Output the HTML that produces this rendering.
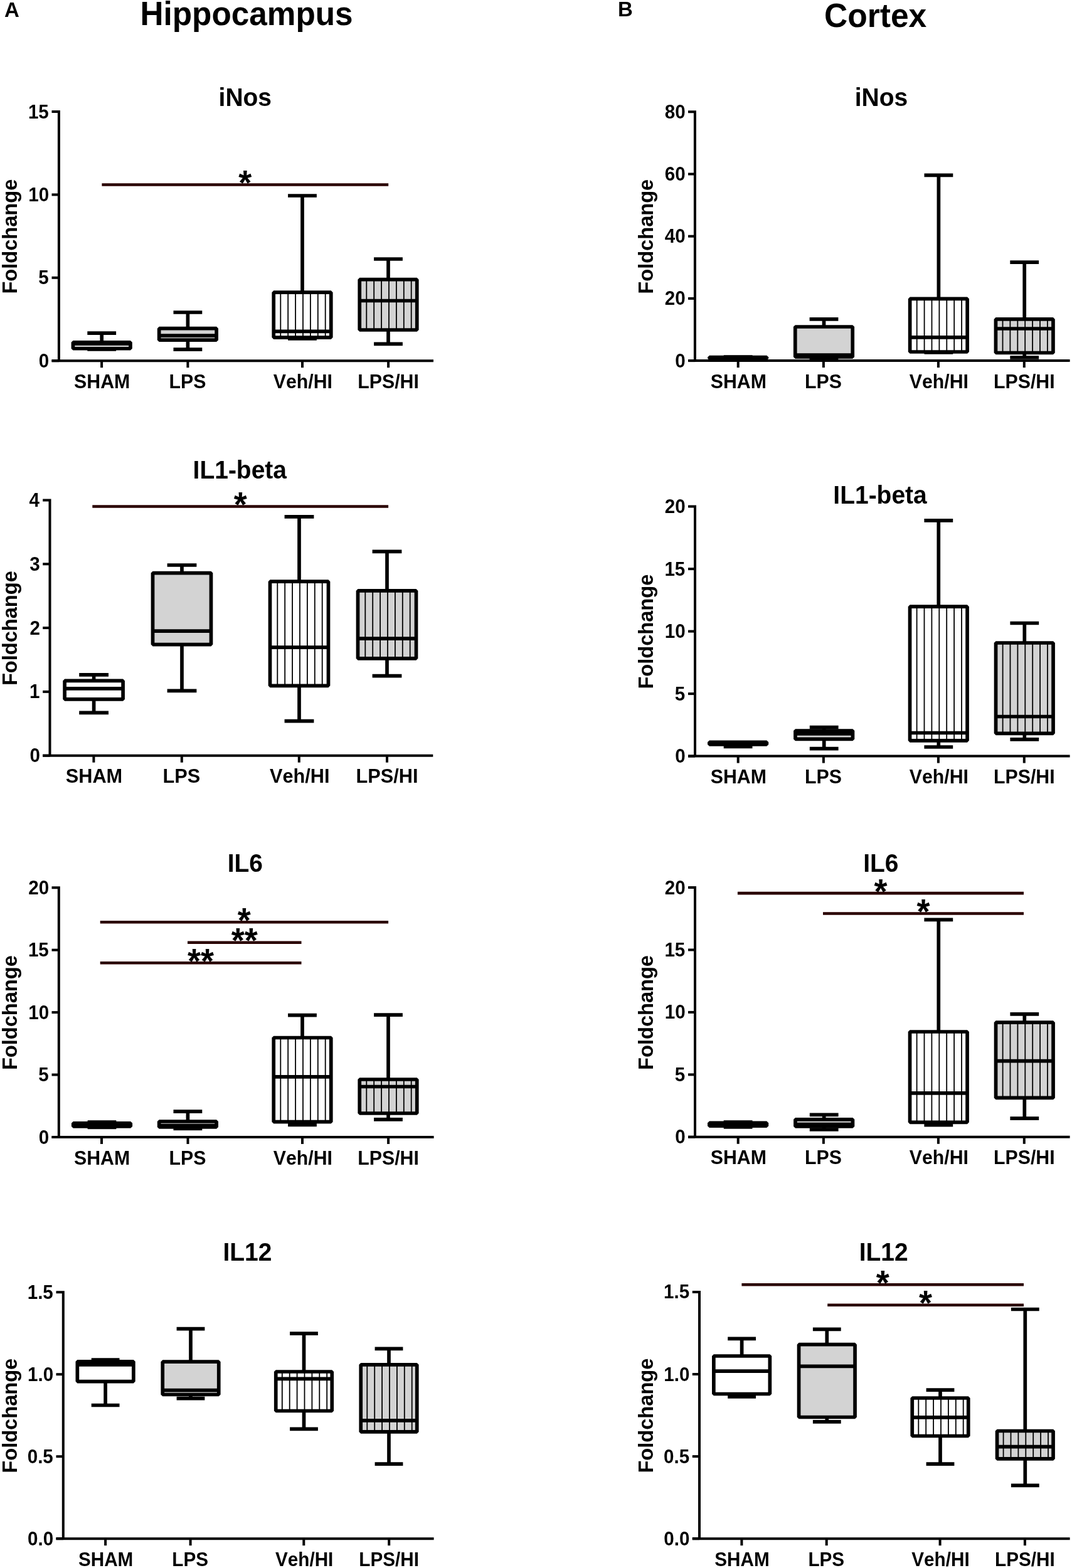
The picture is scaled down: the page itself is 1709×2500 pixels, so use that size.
<!DOCTYPE html>
<html><head><meta charset="utf-8"><title>Hippocampus / Cortex</title>
<style>
html,body{margin:0;padding:0;background:#fff;}
svg{display:block;}
text{font-family:"Liberation Sans",sans-serif;font-weight:bold;fill:#000;font-kerning:none;}
</style></head>
<body>
<svg width="1709" height="2500" viewBox="0 0 1709 2500">
<rect width="1709" height="2500" fill="#fff"/>
<path d="M82.5,178 H93.9 V575.2" fill="none" stroke="#000" stroke-width="4.0" stroke-linejoin="miter"/>
<line x1="82.5" y1="575.2" x2="691" y2="575.2" stroke="#000" stroke-width="4" stroke-linecap="butt"/>
<line x1="82.5" y1="310.4" x2="93.9" y2="310.4" stroke="#000" stroke-width="4" stroke-linecap="butt"/>
<line x1="82.5" y1="442.8" x2="93.9" y2="442.8" stroke="#000" stroke-width="4" stroke-linecap="butt"/>
<line x1="82.5" y1="575.2" x2="93.9" y2="575.2" stroke="#000" stroke-width="4" stroke-linecap="butt"/>
<text transform="translate(44.9,188.59) scale(1,1.04)" x="0" y="0" font-size="29.6">15</text>
<text transform="translate(45.29,320.99) scale(1,1.04)" x="0" y="0" font-size="29.6">10</text>
<text transform="translate(61.36,453.39) scale(1,1.04)" x="0" y="0" font-size="29.6">5</text>
<text transform="translate(61.75,585.79) scale(1,1.04)" x="0" y="0" font-size="29.6">0</text>
<line x1="162.1" y1="575.2" x2="162.1" y2="586.2" stroke="#000" stroke-width="4" stroke-linecap="butt"/>
<line x1="299.4" y1="575.2" x2="299.4" y2="586.2" stroke="#000" stroke-width="4" stroke-linecap="butt"/>
<line x1="482" y1="575.2" x2="482" y2="586.2" stroke="#000" stroke-width="4" stroke-linecap="butt"/>
<line x1="619.1" y1="575.2" x2="619.1" y2="586.2" stroke="#000" stroke-width="4" stroke-linecap="butt"/>
<text transform="translate(118.07,618.7) scale(1,1.04)" x="0" y="0" font-size="30.3">SHAM</text>
<text transform="translate(269.51,618.7) scale(1,1.04)" x="0" y="0" font-size="30.3">LPS</text>
<text transform="translate(435.77,618.7) scale(1,1.04)" x="0" y="0" font-size="30.3">Veh/HI</text>
<text transform="translate(570.28,618.7) scale(1,1.04)" x="0" y="0" font-size="30.3">LPS/HI</text>
<text transform="translate(27.3,376.6) rotate(-90) scale(1,1.04)" x="-92" y="0" font-size="32.6">Foldchange</text>
<text transform="translate(348.58,168.9) scale(1,1.04)" x="0" y="0" font-size="39">iNos</text>
<line x1="162.2" y1="531.1" x2="162.2" y2="545.8" stroke="#000" stroke-width="5.7" stroke-linecap="butt"/>
<line x1="162.2" y1="555.7" x2="162.2" y2="557" stroke="#000" stroke-width="5.7" stroke-linecap="butt"/>
<line x1="139.3" y1="531.1" x2="185.1" y2="531.1" stroke="#000" stroke-width="5.7" stroke-linecap="butt"/>
<line x1="139.3" y1="557" x2="185.1" y2="557" stroke="#000" stroke-width="5.7" stroke-linecap="butt"/>
<rect x="116.45" y="545.8" width="91.5" height="9.9" fill="#fff"/>
<rect x="116.45" y="545.8" width="91.5" height="9.9" fill="none" stroke="#000" stroke-width="5.7" stroke-linejoin="bevel"/>
<line x1="116.45" y1="548.2" x2="207.95" y2="548.2" stroke="#000" stroke-width="5.7" stroke-linecap="butt"/>
<line x1="299.4" y1="498" x2="299.4" y2="523.7" stroke="#000" stroke-width="5.7" stroke-linecap="butt"/>
<line x1="299.4" y1="542.2" x2="299.4" y2="557.1" stroke="#000" stroke-width="5.7" stroke-linecap="butt"/>
<line x1="276.5" y1="498" x2="322.3" y2="498" stroke="#000" stroke-width="5.7" stroke-linecap="butt"/>
<line x1="276.5" y1="557.1" x2="322.3" y2="557.1" stroke="#000" stroke-width="5.7" stroke-linecap="butt"/>
<rect x="253.65" y="523.7" width="91.5" height="18.5" fill="#d3d3d3"/>
<rect x="253.65" y="523.7" width="91.5" height="18.5" fill="none" stroke="#000" stroke-width="5.7" stroke-linejoin="bevel"/>
<line x1="253.65" y1="535.2" x2="345.15" y2="535.2" stroke="#000" stroke-width="5.7" stroke-linecap="butt"/>
<line x1="482" y1="312" x2="482" y2="466.2" stroke="#000" stroke-width="5.7" stroke-linecap="butt"/>
<line x1="482" y1="538.1" x2="482" y2="540" stroke="#000" stroke-width="5.7" stroke-linecap="butt"/>
<line x1="459.1" y1="312" x2="504.9" y2="312" stroke="#000" stroke-width="5.7" stroke-linecap="butt"/>
<line x1="459.1" y1="540" x2="504.9" y2="540" stroke="#000" stroke-width="5.7" stroke-linecap="butt"/>
<rect x="436.25" y="466.2" width="91.5" height="71.9" fill="#fff"/>
<line x1="447.3" y1="466.2" x2="447.3" y2="538.1" stroke="#000" stroke-width="1.8" stroke-linecap="butt"/>
<line x1="459.2" y1="466.2" x2="459.2" y2="538.1" stroke="#000" stroke-width="1.8" stroke-linecap="butt"/>
<line x1="471.1" y1="466.2" x2="471.1" y2="538.1" stroke="#000" stroke-width="1.8" stroke-linecap="butt"/>
<line x1="483" y1="466.2" x2="483" y2="538.1" stroke="#000" stroke-width="1.8" stroke-linecap="butt"/>
<line x1="494.9" y1="466.2" x2="494.9" y2="538.1" stroke="#000" stroke-width="1.8" stroke-linecap="butt"/>
<line x1="506.8" y1="466.2" x2="506.8" y2="538.1" stroke="#000" stroke-width="1.8" stroke-linecap="butt"/>
<line x1="518.7" y1="466.2" x2="518.7" y2="538.1" stroke="#000" stroke-width="1.8" stroke-linecap="butt"/>
<rect x="436.25" y="466.2" width="91.5" height="71.9" fill="none" stroke="#000" stroke-width="5.7" stroke-linejoin="bevel"/>
<line x1="436.25" y1="528.3" x2="527.75" y2="528.3" stroke="#000" stroke-width="5.7" stroke-linecap="butt"/>
<line x1="619" y1="413" x2="619" y2="445.7" stroke="#000" stroke-width="5.7" stroke-linecap="butt"/>
<line x1="619" y1="526" x2="619" y2="548.3" stroke="#000" stroke-width="5.7" stroke-linecap="butt"/>
<line x1="596.1" y1="413" x2="641.9" y2="413" stroke="#000" stroke-width="5.7" stroke-linecap="butt"/>
<line x1="596.1" y1="548.3" x2="641.9" y2="548.3" stroke="#000" stroke-width="5.7" stroke-linecap="butt"/>
<rect x="573.25" y="445.7" width="91.5" height="80.3" fill="#d3d3d3"/>
<line x1="584.3" y1="445.7" x2="584.3" y2="526" stroke="#000" stroke-width="1.8" stroke-linecap="butt"/>
<line x1="596.2" y1="445.7" x2="596.2" y2="526" stroke="#000" stroke-width="1.8" stroke-linecap="butt"/>
<line x1="608.1" y1="445.7" x2="608.1" y2="526" stroke="#000" stroke-width="1.8" stroke-linecap="butt"/>
<line x1="620" y1="445.7" x2="620" y2="526" stroke="#000" stroke-width="1.8" stroke-linecap="butt"/>
<line x1="631.9" y1="445.7" x2="631.9" y2="526" stroke="#000" stroke-width="1.8" stroke-linecap="butt"/>
<line x1="643.8" y1="445.7" x2="643.8" y2="526" stroke="#000" stroke-width="1.8" stroke-linecap="butt"/>
<line x1="655.7" y1="445.7" x2="655.7" y2="526" stroke="#000" stroke-width="1.8" stroke-linecap="butt"/>
<rect x="573.25" y="445.7" width="91.5" height="80.3" fill="none" stroke="#000" stroke-width="5.7" stroke-linejoin="bevel"/>
<line x1="573.25" y1="479.5" x2="664.75" y2="479.5" stroke="#000" stroke-width="5.7" stroke-linecap="butt"/>
<line x1="162.4" y1="294.5" x2="619.2" y2="294.5" stroke="#2a0000" stroke-width="4.6" stroke-linecap="butt"/>
<text transform="translate(380.24,310.25) scale(1,1.04)" x="0" y="0" font-size="54">*</text>
<path d="M68.2,797.5 H79.5 V1204.7" fill="none" stroke="#000" stroke-width="4.0" stroke-linejoin="miter"/>
<line x1="68.2" y1="1204.7" x2="690.3" y2="1204.7" stroke="#000" stroke-width="4" stroke-linecap="butt"/>
<line x1="68.2" y1="899.3" x2="79.5" y2="899.3" stroke="#000" stroke-width="4" stroke-linecap="butt"/>
<line x1="68.2" y1="1001.1" x2="79.5" y2="1001.1" stroke="#000" stroke-width="4" stroke-linecap="butt"/>
<line x1="68.2" y1="1102.9" x2="79.5" y2="1102.9" stroke="#000" stroke-width="4" stroke-linecap="butt"/>
<line x1="68.2" y1="1204.7" x2="79.5" y2="1204.7" stroke="#000" stroke-width="4" stroke-linecap="butt"/>
<text transform="translate(46.4,808.09) scale(1,1.04)" x="0" y="0" font-size="29.6">4</text>
<text transform="translate(47.31,909.89) scale(1,1.04)" x="0" y="0" font-size="29.6">3</text>
<text transform="translate(47.42,1011.69) scale(1,1.04)" x="0" y="0" font-size="29.6">2</text>
<text transform="translate(47.06,1113.49) scale(1,1.04)" x="0" y="0" font-size="29.6">1</text>
<text transform="translate(47.45,1215.29) scale(1,1.04)" x="0" y="0" font-size="29.6">0</text>
<line x1="149.4" y1="1204.7" x2="149.4" y2="1215.7" stroke="#000" stroke-width="4" stroke-linecap="butt"/>
<line x1="289.8" y1="1204.7" x2="289.8" y2="1215.7" stroke="#000" stroke-width="4" stroke-linecap="butt"/>
<line x1="476.8" y1="1204.7" x2="476.8" y2="1215.7" stroke="#000" stroke-width="4" stroke-linecap="butt"/>
<line x1="617" y1="1204.7" x2="617" y2="1215.7" stroke="#000" stroke-width="4" stroke-linecap="butt"/>
<text transform="translate(104.79,1248.2) scale(1,1.04)" x="0" y="0" font-size="30.7">SHAM</text>
<text transform="translate(259.52,1248.2) scale(1,1.04)" x="0" y="0" font-size="30.7">LPS</text>
<text transform="translate(429.96,1248.2) scale(1,1.04)" x="0" y="0" font-size="30.7">Veh/HI</text>
<text transform="translate(567.53,1248.2) scale(1,1.04)" x="0" y="0" font-size="30.7">LPS/HI</text>
<text transform="translate(27.3,1001.1) rotate(-90) scale(1,1.04)" x="-92" y="0" font-size="32.6">Foldchange</text>
<text transform="translate(307.56,763) scale(1,1.04)" x="0" y="0" font-size="39">IL1-beta</text>
<line x1="149.6" y1="1075.9" x2="149.6" y2="1085.4" stroke="#000" stroke-width="5.7" stroke-linecap="butt"/>
<line x1="149.6" y1="1114.9" x2="149.6" y2="1136.4" stroke="#000" stroke-width="5.7" stroke-linecap="butt"/>
<line x1="126.2" y1="1075.9" x2="173" y2="1075.9" stroke="#000" stroke-width="5.7" stroke-linecap="butt"/>
<line x1="126.2" y1="1136.4" x2="173" y2="1136.4" stroke="#000" stroke-width="5.7" stroke-linecap="butt"/>
<rect x="103.1" y="1085.4" width="93" height="29.5" fill="#fff"/>
<rect x="103.1" y="1085.4" width="93" height="29.5" fill="none" stroke="#000" stroke-width="5.7" stroke-linejoin="bevel"/>
<line x1="103.1" y1="1097.9" x2="196.1" y2="1097.9" stroke="#000" stroke-width="5.7" stroke-linecap="butt"/>
<line x1="290" y1="901" x2="290" y2="913.6" stroke="#000" stroke-width="5.7" stroke-linecap="butt"/>
<line x1="290" y1="1027.6" x2="290" y2="1101.3" stroke="#000" stroke-width="5.7" stroke-linecap="butt"/>
<line x1="266.6" y1="901" x2="313.4" y2="901" stroke="#000" stroke-width="5.7" stroke-linecap="butt"/>
<line x1="266.6" y1="1101.3" x2="313.4" y2="1101.3" stroke="#000" stroke-width="5.7" stroke-linecap="butt"/>
<rect x="243.5" y="913.6" width="93" height="114" fill="#d3d3d3"/>
<rect x="243.5" y="913.6" width="93" height="114" fill="none" stroke="#000" stroke-width="5.7" stroke-linejoin="bevel"/>
<line x1="243.5" y1="1006.2" x2="336.5" y2="1006.2" stroke="#000" stroke-width="5.7" stroke-linecap="butt"/>
<line x1="477" y1="823.9" x2="477" y2="927.2" stroke="#000" stroke-width="5.7" stroke-linecap="butt"/>
<line x1="477" y1="1093.3" x2="477" y2="1149.7" stroke="#000" stroke-width="5.7" stroke-linecap="butt"/>
<line x1="453.6" y1="823.9" x2="500.4" y2="823.9" stroke="#000" stroke-width="5.7" stroke-linecap="butt"/>
<line x1="453.6" y1="1149.7" x2="500.4" y2="1149.7" stroke="#000" stroke-width="5.7" stroke-linecap="butt"/>
<rect x="430.5" y="927.2" width="93" height="166.1" fill="#fff"/>
<line x1="442.3" y1="927.2" x2="442.3" y2="1093.3" stroke="#000" stroke-width="1.8" stroke-linecap="butt"/>
<line x1="454.2" y1="927.2" x2="454.2" y2="1093.3" stroke="#000" stroke-width="1.8" stroke-linecap="butt"/>
<line x1="466.1" y1="927.2" x2="466.1" y2="1093.3" stroke="#000" stroke-width="1.8" stroke-linecap="butt"/>
<line x1="478" y1="927.2" x2="478" y2="1093.3" stroke="#000" stroke-width="1.8" stroke-linecap="butt"/>
<line x1="489.9" y1="927.2" x2="489.9" y2="1093.3" stroke="#000" stroke-width="1.8" stroke-linecap="butt"/>
<line x1="501.8" y1="927.2" x2="501.8" y2="1093.3" stroke="#000" stroke-width="1.8" stroke-linecap="butt"/>
<line x1="513.7" y1="927.2" x2="513.7" y2="1093.3" stroke="#000" stroke-width="1.8" stroke-linecap="butt"/>
<rect x="430.5" y="927.2" width="93" height="166.1" fill="none" stroke="#000" stroke-width="5.7" stroke-linejoin="bevel"/>
<line x1="430.5" y1="1032.2" x2="523.5" y2="1032.2" stroke="#000" stroke-width="5.7" stroke-linecap="butt"/>
<line x1="617" y1="879.4" x2="617" y2="941.9" stroke="#000" stroke-width="5.7" stroke-linecap="butt"/>
<line x1="617" y1="1049.8" x2="617" y2="1077.7" stroke="#000" stroke-width="5.7" stroke-linecap="butt"/>
<line x1="593.6" y1="879.4" x2="640.4" y2="879.4" stroke="#000" stroke-width="5.7" stroke-linecap="butt"/>
<line x1="593.6" y1="1077.7" x2="640.4" y2="1077.7" stroke="#000" stroke-width="5.7" stroke-linecap="butt"/>
<rect x="570.5" y="941.9" width="93" height="107.9" fill="#d3d3d3"/>
<line x1="582.3" y1="941.9" x2="582.3" y2="1049.8" stroke="#000" stroke-width="1.8" stroke-linecap="butt"/>
<line x1="594.2" y1="941.9" x2="594.2" y2="1049.8" stroke="#000" stroke-width="1.8" stroke-linecap="butt"/>
<line x1="606.1" y1="941.9" x2="606.1" y2="1049.8" stroke="#000" stroke-width="1.8" stroke-linecap="butt"/>
<line x1="618" y1="941.9" x2="618" y2="1049.8" stroke="#000" stroke-width="1.8" stroke-linecap="butt"/>
<line x1="629.9" y1="941.9" x2="629.9" y2="1049.8" stroke="#000" stroke-width="1.8" stroke-linecap="butt"/>
<line x1="641.8" y1="941.9" x2="641.8" y2="1049.8" stroke="#000" stroke-width="1.8" stroke-linecap="butt"/>
<line x1="653.7" y1="941.9" x2="653.7" y2="1049.8" stroke="#000" stroke-width="1.8" stroke-linecap="butt"/>
<rect x="570.5" y="941.9" width="93" height="107.9" fill="none" stroke="#000" stroke-width="5.7" stroke-linejoin="bevel"/>
<line x1="570.5" y1="1018.1" x2="663.5" y2="1018.1" stroke="#000" stroke-width="5.7" stroke-linecap="butt"/>
<line x1="147.3" y1="807.5" x2="619.1" y2="807.5" stroke="#2a0000" stroke-width="4.6" stroke-linecap="butt"/>
<text transform="translate(372.64,823.25) scale(1,1.04)" x="0" y="0" font-size="54">*</text>
<path d="M82.5,1415.2 H93.8 V1813" fill="none" stroke="#000" stroke-width="4.0" stroke-linejoin="miter"/>
<line x1="82.5" y1="1813" x2="691.6" y2="1813" stroke="#000" stroke-width="4" stroke-linecap="butt"/>
<line x1="82.5" y1="1514.65" x2="93.8" y2="1514.65" stroke="#000" stroke-width="4" stroke-linecap="butt"/>
<line x1="82.5" y1="1614.1" x2="93.8" y2="1614.1" stroke="#000" stroke-width="4" stroke-linecap="butt"/>
<line x1="82.5" y1="1713.55" x2="93.8" y2="1713.55" stroke="#000" stroke-width="4" stroke-linecap="butt"/>
<line x1="82.5" y1="1813" x2="93.8" y2="1813" stroke="#000" stroke-width="4" stroke-linecap="butt"/>
<text transform="translate(45.29,1425.79) scale(1,1.04)" x="0" y="0" font-size="29.6">20</text>
<text transform="translate(44.9,1525.24) scale(1,1.04)" x="0" y="0" font-size="29.6">15</text>
<text transform="translate(45.29,1624.69) scale(1,1.04)" x="0" y="0" font-size="29.6">10</text>
<text transform="translate(61.36,1724.14) scale(1,1.04)" x="0" y="0" font-size="29.6">5</text>
<text transform="translate(61.75,1823.59) scale(1,1.04)" x="0" y="0" font-size="29.6">0</text>
<line x1="162" y1="1813" x2="162" y2="1824" stroke="#000" stroke-width="4" stroke-linecap="butt"/>
<line x1="299.5" y1="1813" x2="299.5" y2="1824" stroke="#000" stroke-width="4" stroke-linecap="butt"/>
<line x1="482" y1="1813" x2="482" y2="1824" stroke="#000" stroke-width="4" stroke-linecap="butt"/>
<line x1="619.1" y1="1813" x2="619.1" y2="1824" stroke="#000" stroke-width="4" stroke-linecap="butt"/>
<text transform="translate(117.97,1856.5) scale(1,1.04)" x="0" y="0" font-size="30.3">SHAM</text>
<text transform="translate(269.61,1856.5) scale(1,1.04)" x="0" y="0" font-size="30.3">LPS</text>
<text transform="translate(435.77,1856.5) scale(1,1.04)" x="0" y="0" font-size="30.3">Veh/HI</text>
<text transform="translate(570.28,1856.5) scale(1,1.04)" x="0" y="0" font-size="30.3">LPS/HI</text>
<text transform="translate(27.3,1614.1) rotate(-90) scale(1,1.04)" x="-92" y="0" font-size="32.6">Foldchange</text>
<text transform="translate(362.63,1390.3) scale(1,1.04)" x="0" y="0" font-size="39">IL6</text>
<line x1="162.5" y1="1789" x2="162.5" y2="1790.8" stroke="#000" stroke-width="5.7" stroke-linecap="butt"/>
<line x1="162.5" y1="1796" x2="162.5" y2="1797.5" stroke="#000" stroke-width="5.7" stroke-linecap="butt"/>
<line x1="139.6" y1="1789" x2="185.4" y2="1789" stroke="#000" stroke-width="5.7" stroke-linecap="butt"/>
<line x1="139.6" y1="1797.5" x2="185.4" y2="1797.5" stroke="#000" stroke-width="5.7" stroke-linecap="butt"/>
<rect x="116.75" y="1790.8" width="91.5" height="5.2" fill="#fff"/>
<rect x="116.75" y="1790.8" width="91.5" height="5.2" fill="none" stroke="#000" stroke-width="5.7" stroke-linejoin="bevel"/>
<line x1="116.75" y1="1793" x2="208.25" y2="1793" stroke="#000" stroke-width="5.7" stroke-linecap="butt"/>
<line x1="299.4" y1="1772.2" x2="299.4" y2="1788" stroke="#000" stroke-width="5.7" stroke-linecap="butt"/>
<line x1="299.4" y1="1797" x2="299.4" y2="1799.5" stroke="#000" stroke-width="5.7" stroke-linecap="butt"/>
<line x1="276.5" y1="1772.2" x2="322.3" y2="1772.2" stroke="#000" stroke-width="5.7" stroke-linecap="butt"/>
<line x1="276.5" y1="1799.5" x2="322.3" y2="1799.5" stroke="#000" stroke-width="5.7" stroke-linecap="butt"/>
<rect x="253.65" y="1788" width="91.5" height="9" fill="#d3d3d3"/>
<rect x="253.65" y="1788" width="91.5" height="9" fill="none" stroke="#000" stroke-width="5.7" stroke-linejoin="bevel"/>
<line x1="253.65" y1="1794.5" x2="345.15" y2="1794.5" stroke="#000" stroke-width="5.7" stroke-linecap="butt"/>
<line x1="482" y1="1618.7" x2="482" y2="1654.5" stroke="#000" stroke-width="5.7" stroke-linecap="butt"/>
<line x1="482" y1="1788.7" x2="482" y2="1793.5" stroke="#000" stroke-width="5.7" stroke-linecap="butt"/>
<line x1="459.1" y1="1618.7" x2="504.9" y2="1618.7" stroke="#000" stroke-width="5.7" stroke-linecap="butt"/>
<line x1="459.1" y1="1793.5" x2="504.9" y2="1793.5" stroke="#000" stroke-width="5.7" stroke-linecap="butt"/>
<rect x="436.25" y="1654.5" width="91.5" height="134.2" fill="#fff"/>
<line x1="447.3" y1="1654.5" x2="447.3" y2="1788.7" stroke="#000" stroke-width="1.8" stroke-linecap="butt"/>
<line x1="459.2" y1="1654.5" x2="459.2" y2="1788.7" stroke="#000" stroke-width="1.8" stroke-linecap="butt"/>
<line x1="471.1" y1="1654.5" x2="471.1" y2="1788.7" stroke="#000" stroke-width="1.8" stroke-linecap="butt"/>
<line x1="483" y1="1654.5" x2="483" y2="1788.7" stroke="#000" stroke-width="1.8" stroke-linecap="butt"/>
<line x1="494.9" y1="1654.5" x2="494.9" y2="1788.7" stroke="#000" stroke-width="1.8" stroke-linecap="butt"/>
<line x1="506.8" y1="1654.5" x2="506.8" y2="1788.7" stroke="#000" stroke-width="1.8" stroke-linecap="butt"/>
<line x1="518.7" y1="1654.5" x2="518.7" y2="1788.7" stroke="#000" stroke-width="1.8" stroke-linecap="butt"/>
<rect x="436.25" y="1654.5" width="91.5" height="134.2" fill="none" stroke="#000" stroke-width="5.7" stroke-linejoin="bevel"/>
<line x1="436.25" y1="1716.8" x2="527.75" y2="1716.8" stroke="#000" stroke-width="5.7" stroke-linecap="butt"/>
<line x1="619" y1="1618.2" x2="619" y2="1721" stroke="#000" stroke-width="5.7" stroke-linecap="butt"/>
<line x1="619" y1="1775" x2="619" y2="1784.8" stroke="#000" stroke-width="5.7" stroke-linecap="butt"/>
<line x1="596.1" y1="1618.2" x2="641.9" y2="1618.2" stroke="#000" stroke-width="5.7" stroke-linecap="butt"/>
<line x1="596.1" y1="1784.8" x2="641.9" y2="1784.8" stroke="#000" stroke-width="5.7" stroke-linecap="butt"/>
<rect x="573.25" y="1721" width="91.5" height="54" fill="#d3d3d3"/>
<line x1="584.3" y1="1721" x2="584.3" y2="1775" stroke="#000" stroke-width="1.8" stroke-linecap="butt"/>
<line x1="596.2" y1="1721" x2="596.2" y2="1775" stroke="#000" stroke-width="1.8" stroke-linecap="butt"/>
<line x1="608.1" y1="1721" x2="608.1" y2="1775" stroke="#000" stroke-width="1.8" stroke-linecap="butt"/>
<line x1="620" y1="1721" x2="620" y2="1775" stroke="#000" stroke-width="1.8" stroke-linecap="butt"/>
<line x1="631.9" y1="1721" x2="631.9" y2="1775" stroke="#000" stroke-width="1.8" stroke-linecap="butt"/>
<line x1="643.8" y1="1721" x2="643.8" y2="1775" stroke="#000" stroke-width="1.8" stroke-linecap="butt"/>
<line x1="655.7" y1="1721" x2="655.7" y2="1775" stroke="#000" stroke-width="1.8" stroke-linecap="butt"/>
<rect x="573.25" y="1721" width="91.5" height="54" fill="none" stroke="#000" stroke-width="5.7" stroke-linejoin="bevel"/>
<line x1="573.25" y1="1732.5" x2="664.75" y2="1732.5" stroke="#000" stroke-width="5.7" stroke-linecap="butt"/>
<line x1="159.7" y1="1470.3" x2="619.1" y2="1470.3" stroke="#2a0000" stroke-width="4.6" stroke-linecap="butt"/>
<text transform="translate(378.84,1486.05) scale(1,1.04)" x="0" y="0" font-size="54">*</text>
<line x1="299" y1="1502.7" x2="480.5" y2="1502.7" stroke="#2a0000" stroke-width="4.6" stroke-linecap="butt"/>
<text transform="translate(368.68,1518.45) scale(1,1.04)" x="0" y="0" font-size="54">**</text>
<line x1="159.7" y1="1535.3" x2="480.5" y2="1535.3" stroke="#2a0000" stroke-width="4.6" stroke-linecap="butt"/>
<text transform="translate(299.03,1551.05) scale(1,1.04)" x="0" y="0" font-size="54">**</text>
<path d="M89.5,2060.2 H100.8 V2453.2" fill="none" stroke="#000" stroke-width="4.0" stroke-linejoin="miter"/>
<line x1="89.5" y1="2453.2" x2="691.6" y2="2453.2" stroke="#000" stroke-width="4" stroke-linecap="butt"/>
<line x1="89.5" y1="2191.2" x2="100.8" y2="2191.2" stroke="#000" stroke-width="4" stroke-linecap="butt"/>
<line x1="89.5" y1="2322.2" x2="100.8" y2="2322.2" stroke="#000" stroke-width="4" stroke-linecap="butt"/>
<line x1="89.5" y1="2453.2" x2="100.8" y2="2453.2" stroke="#000" stroke-width="4" stroke-linecap="butt"/>
<text transform="translate(43.68,2070.79) scale(1,1.04)" x="0" y="0" font-size="29.6">1.5</text>
<text transform="translate(44.07,2201.79) scale(1,1.04)" x="0" y="0" font-size="29.6">1.0</text>
<text transform="translate(43.68,2332.79) scale(1,1.04)" x="0" y="0" font-size="29.6">0.5</text>
<text transform="translate(44.07,2463.79) scale(1,1.04)" x="0" y="0" font-size="29.6">0.0</text>
<line x1="168.1" y1="2453.2" x2="168.1" y2="2464.2" stroke="#000" stroke-width="4" stroke-linecap="butt"/>
<line x1="303.6" y1="2453.2" x2="303.6" y2="2464.2" stroke="#000" stroke-width="4" stroke-linecap="butt"/>
<line x1="484.3" y1="2453.2" x2="484.3" y2="2464.2" stroke="#000" stroke-width="4" stroke-linecap="butt"/>
<line x1="620.2" y1="2453.2" x2="620.2" y2="2464.2" stroke="#000" stroke-width="4" stroke-linecap="butt"/>
<text transform="translate(124.94,2496.7) scale(1,1.04)" x="0" y="0" font-size="29.7">SHAM</text>
<text transform="translate(274.31,2496.7) scale(1,1.04)" x="0" y="0" font-size="29.7">LPS</text>
<text transform="translate(438.98,2496.7) scale(1,1.04)" x="0" y="0" font-size="29.7">Veh/HI</text>
<text transform="translate(572.34,2496.7) scale(1,1.04)" x="0" y="0" font-size="29.7">LPS/HI</text>
<text transform="translate(27.3,2256.7) rotate(-90) scale(1,1.04)" x="-92" y="0" font-size="32.6">Foldchange</text>
<text transform="translate(355.46,2010.3) scale(1,1.04)" x="0" y="0" font-size="39">IL12</text>
<line x1="168.1" y1="2168" x2="168.1" y2="2170.8" stroke="#000" stroke-width="5.7" stroke-linecap="butt"/>
<line x1="168.1" y1="2202.6" x2="168.1" y2="2240.5" stroke="#000" stroke-width="5.7" stroke-linecap="butt"/>
<line x1="145.7" y1="2168" x2="190.5" y2="2168" stroke="#000" stroke-width="5.7" stroke-linecap="butt"/>
<line x1="145.7" y1="2240.5" x2="190.5" y2="2240.5" stroke="#000" stroke-width="5.7" stroke-linecap="butt"/>
<rect x="123.35" y="2170.8" width="89.5" height="31.8" fill="#fff"/>
<rect x="123.35" y="2170.8" width="89.5" height="31.8" fill="none" stroke="#000" stroke-width="5.7" stroke-linejoin="bevel"/>
<line x1="123.35" y1="2175.8" x2="212.85" y2="2175.8" stroke="#000" stroke-width="5.7" stroke-linecap="butt"/>
<line x1="304" y1="2118.6" x2="304" y2="2171.2" stroke="#000" stroke-width="5.7" stroke-linecap="butt"/>
<line x1="304" y1="2223.5" x2="304" y2="2229.6" stroke="#000" stroke-width="5.7" stroke-linecap="butt"/>
<line x1="281.6" y1="2118.6" x2="326.4" y2="2118.6" stroke="#000" stroke-width="5.7" stroke-linecap="butt"/>
<line x1="281.6" y1="2229.6" x2="326.4" y2="2229.6" stroke="#000" stroke-width="5.7" stroke-linecap="butt"/>
<rect x="259.25" y="2171.2" width="89.5" height="52.3" fill="#d3d3d3"/>
<rect x="259.25" y="2171.2" width="89.5" height="52.3" fill="none" stroke="#000" stroke-width="5.7" stroke-linejoin="bevel"/>
<line x1="259.25" y1="2216.6" x2="348.75" y2="2216.6" stroke="#000" stroke-width="5.7" stroke-linecap="butt"/>
<line x1="484.5" y1="2126.2" x2="484.5" y2="2187" stroke="#000" stroke-width="5.7" stroke-linecap="butt"/>
<line x1="484.5" y1="2249.5" x2="484.5" y2="2278.3" stroke="#000" stroke-width="5.7" stroke-linecap="butt"/>
<line x1="462.1" y1="2126.2" x2="506.9" y2="2126.2" stroke="#000" stroke-width="5.7" stroke-linecap="butt"/>
<line x1="462.1" y1="2278.3" x2="506.9" y2="2278.3" stroke="#000" stroke-width="5.7" stroke-linecap="butt"/>
<rect x="439.75" y="2187" width="89.5" height="62.5" fill="#fff"/>
<line x1="449.8" y1="2187" x2="449.8" y2="2249.5" stroke="#000" stroke-width="1.8" stroke-linecap="butt"/>
<line x1="461.7" y1="2187" x2="461.7" y2="2249.5" stroke="#000" stroke-width="1.8" stroke-linecap="butt"/>
<line x1="473.6" y1="2187" x2="473.6" y2="2249.5" stroke="#000" stroke-width="1.8" stroke-linecap="butt"/>
<line x1="485.5" y1="2187" x2="485.5" y2="2249.5" stroke="#000" stroke-width="1.8" stroke-linecap="butt"/>
<line x1="497.4" y1="2187" x2="497.4" y2="2249.5" stroke="#000" stroke-width="1.8" stroke-linecap="butt"/>
<line x1="509.3" y1="2187" x2="509.3" y2="2249.5" stroke="#000" stroke-width="1.8" stroke-linecap="butt"/>
<line x1="521.2" y1="2187" x2="521.2" y2="2249.5" stroke="#000" stroke-width="1.8" stroke-linecap="butt"/>
<rect x="439.75" y="2187" width="89.5" height="62.5" fill="none" stroke="#000" stroke-width="5.7" stroke-linejoin="bevel"/>
<line x1="439.75" y1="2198.4" x2="529.25" y2="2198.4" stroke="#000" stroke-width="5.7" stroke-linecap="butt"/>
<line x1="620" y1="2150.4" x2="620" y2="2175.8" stroke="#000" stroke-width="5.7" stroke-linecap="butt"/>
<line x1="620" y1="2282.9" x2="620" y2="2334.2" stroke="#000" stroke-width="5.7" stroke-linecap="butt"/>
<line x1="597.6" y1="2150.4" x2="642.4" y2="2150.4" stroke="#000" stroke-width="5.7" stroke-linecap="butt"/>
<line x1="597.6" y1="2334.2" x2="642.4" y2="2334.2" stroke="#000" stroke-width="5.7" stroke-linecap="butt"/>
<rect x="575.25" y="2175.8" width="89.5" height="107.1" fill="#d3d3d3"/>
<line x1="585.3" y1="2175.8" x2="585.3" y2="2282.9" stroke="#000" stroke-width="1.8" stroke-linecap="butt"/>
<line x1="597.2" y1="2175.8" x2="597.2" y2="2282.9" stroke="#000" stroke-width="1.8" stroke-linecap="butt"/>
<line x1="609.1" y1="2175.8" x2="609.1" y2="2282.9" stroke="#000" stroke-width="1.8" stroke-linecap="butt"/>
<line x1="621" y1="2175.8" x2="621" y2="2282.9" stroke="#000" stroke-width="1.8" stroke-linecap="butt"/>
<line x1="632.9" y1="2175.8" x2="632.9" y2="2282.9" stroke="#000" stroke-width="1.8" stroke-linecap="butt"/>
<line x1="644.8" y1="2175.8" x2="644.8" y2="2282.9" stroke="#000" stroke-width="1.8" stroke-linecap="butt"/>
<line x1="656.7" y1="2175.8" x2="656.7" y2="2282.9" stroke="#000" stroke-width="1.8" stroke-linecap="butt"/>
<rect x="575.25" y="2175.8" width="89.5" height="107.1" fill="none" stroke="#000" stroke-width="5.7" stroke-linejoin="bevel"/>
<line x1="575.25" y1="2264.8" x2="664.75" y2="2264.8" stroke="#000" stroke-width="5.7" stroke-linecap="butt"/>
<path d="M1097,178.3 H1107.9 V575.1" fill="none" stroke="#000" stroke-width="4.0" stroke-linejoin="miter"/>
<line x1="1097" y1="575.1" x2="1705.6" y2="575.1" stroke="#000" stroke-width="4" stroke-linecap="butt"/>
<line x1="1097" y1="277.5" x2="1107.9" y2="277.5" stroke="#000" stroke-width="4" stroke-linecap="butt"/>
<line x1="1097" y1="376.7" x2="1107.9" y2="376.7" stroke="#000" stroke-width="4" stroke-linecap="butt"/>
<line x1="1097" y1="475.9" x2="1107.9" y2="475.9" stroke="#000" stroke-width="4" stroke-linecap="butt"/>
<line x1="1097" y1="575.1" x2="1107.9" y2="575.1" stroke="#000" stroke-width="4" stroke-linecap="butt"/>
<text transform="translate(1059.79,188.89) scale(1,1.04)" x="0" y="0" font-size="29.6">80</text>
<text transform="translate(1059.79,288.09) scale(1,1.04)" x="0" y="0" font-size="29.6">60</text>
<text transform="translate(1059.79,387.29) scale(1,1.04)" x="0" y="0" font-size="29.6">40</text>
<text transform="translate(1059.79,486.49) scale(1,1.04)" x="0" y="0" font-size="29.6">20</text>
<text transform="translate(1076.25,585.69) scale(1,1.04)" x="0" y="0" font-size="29.6">0</text>
<line x1="1176.7" y1="575.1" x2="1176.7" y2="586.1" stroke="#000" stroke-width="4" stroke-linecap="butt"/>
<line x1="1312.9" y1="575.1" x2="1312.9" y2="586.1" stroke="#000" stroke-width="4" stroke-linecap="butt"/>
<line x1="1495.9" y1="575.1" x2="1495.9" y2="586.1" stroke="#000" stroke-width="4" stroke-linecap="butt"/>
<line x1="1632.8" y1="575.1" x2="1632.8" y2="586.1" stroke="#000" stroke-width="4" stroke-linecap="butt"/>
<text transform="translate(1132.67,618.6) scale(1,1.04)" x="0" y="0" font-size="30.3">SHAM</text>
<text transform="translate(1283.01,618.6) scale(1,1.04)" x="0" y="0" font-size="30.3">LPS</text>
<text transform="translate(1449.67,618.6) scale(1,1.04)" x="0" y="0" font-size="30.3">Veh/HI</text>
<text transform="translate(1583.98,618.6) scale(1,1.04)" x="0" y="0" font-size="30.3">LPS/HI</text>
<text transform="translate(1041.2,376.7) rotate(-90) scale(1,1.04)" x="-92" y="0" font-size="32.6">Foldchange</text>
<text transform="translate(1362.78,169.4) scale(1,1.04)" x="0" y="0" font-size="39">iNos</text>
<line x1="1176.7" y1="569" x2="1176.7" y2="569.5" stroke="#000" stroke-width="5.7" stroke-linecap="butt"/>
<line x1="1176.7" y1="571.5" x2="1176.7" y2="572" stroke="#000" stroke-width="5.7" stroke-linecap="butt"/>
<line x1="1153.8" y1="569" x2="1199.6" y2="569" stroke="#000" stroke-width="5.7" stroke-linecap="butt"/>
<line x1="1153.8" y1="572" x2="1199.6" y2="572" stroke="#000" stroke-width="5.7" stroke-linecap="butt"/>
<rect x="1130.95" y="569.5" width="91.5" height="2" fill="#fff"/>
<rect x="1130.95" y="569.5" width="91.5" height="2" fill="none" stroke="#000" stroke-width="5.7" stroke-linejoin="bevel"/>
<line x1="1130.95" y1="570" x2="1222.45" y2="570" stroke="#000" stroke-width="5.7" stroke-linecap="butt"/>
<line x1="1313.5" y1="508.8" x2="1313.5" y2="521" stroke="#000" stroke-width="5.7" stroke-linecap="butt"/>
<line x1="1313.5" y1="569.1" x2="1313.5" y2="571" stroke="#000" stroke-width="5.7" stroke-linecap="butt"/>
<line x1="1290.6" y1="508.8" x2="1336.4" y2="508.8" stroke="#000" stroke-width="5.7" stroke-linecap="butt"/>
<line x1="1290.6" y1="571" x2="1336.4" y2="571" stroke="#000" stroke-width="5.7" stroke-linecap="butt"/>
<rect x="1267.75" y="521" width="91.5" height="48.1" fill="#d3d3d3"/>
<rect x="1267.75" y="521" width="91.5" height="48.1" fill="none" stroke="#000" stroke-width="5.7" stroke-linejoin="bevel"/>
<line x1="1267.75" y1="566" x2="1359.25" y2="566" stroke="#000" stroke-width="5.7" stroke-linecap="butt"/>
<line x1="1496.4" y1="279.3" x2="1496.4" y2="476.4" stroke="#000" stroke-width="5.7" stroke-linecap="butt"/>
<line x1="1496.4" y1="561" x2="1496.4" y2="562" stroke="#000" stroke-width="5.7" stroke-linecap="butt"/>
<line x1="1473.5" y1="279.3" x2="1519.3" y2="279.3" stroke="#000" stroke-width="5.7" stroke-linecap="butt"/>
<line x1="1473.5" y1="562" x2="1519.3" y2="562" stroke="#000" stroke-width="5.7" stroke-linecap="butt"/>
<rect x="1450.65" y="476.4" width="91.5" height="84.6" fill="#fff"/>
<line x1="1461.7" y1="476.4" x2="1461.7" y2="561" stroke="#000" stroke-width="1.8" stroke-linecap="butt"/>
<line x1="1473.6" y1="476.4" x2="1473.6" y2="561" stroke="#000" stroke-width="1.8" stroke-linecap="butt"/>
<line x1="1485.5" y1="476.4" x2="1485.5" y2="561" stroke="#000" stroke-width="1.8" stroke-linecap="butt"/>
<line x1="1497.4" y1="476.4" x2="1497.4" y2="561" stroke="#000" stroke-width="1.8" stroke-linecap="butt"/>
<line x1="1509.3" y1="476.4" x2="1509.3" y2="561" stroke="#000" stroke-width="1.8" stroke-linecap="butt"/>
<line x1="1521.2" y1="476.4" x2="1521.2" y2="561" stroke="#000" stroke-width="1.8" stroke-linecap="butt"/>
<line x1="1533.1" y1="476.4" x2="1533.1" y2="561" stroke="#000" stroke-width="1.8" stroke-linecap="butt"/>
<rect x="1450.65" y="476.4" width="91.5" height="84.6" fill="none" stroke="#000" stroke-width="5.7" stroke-linejoin="bevel"/>
<line x1="1450.65" y1="537.9" x2="1542.15" y2="537.9" stroke="#000" stroke-width="5.7" stroke-linecap="butt"/>
<line x1="1633.2" y1="418.1" x2="1633.2" y2="508.9" stroke="#000" stroke-width="5.7" stroke-linecap="butt"/>
<line x1="1633.2" y1="562.5" x2="1633.2" y2="570" stroke="#000" stroke-width="5.7" stroke-linecap="butt"/>
<line x1="1610.3" y1="418.1" x2="1656.1" y2="418.1" stroke="#000" stroke-width="5.7" stroke-linecap="butt"/>
<line x1="1610.3" y1="570" x2="1656.1" y2="570" stroke="#000" stroke-width="5.7" stroke-linecap="butt"/>
<rect x="1587.45" y="508.9" width="91.5" height="53.6" fill="#d3d3d3"/>
<line x1="1598.5" y1="508.9" x2="1598.5" y2="562.5" stroke="#000" stroke-width="1.8" stroke-linecap="butt"/>
<line x1="1610.4" y1="508.9" x2="1610.4" y2="562.5" stroke="#000" stroke-width="1.8" stroke-linecap="butt"/>
<line x1="1622.3" y1="508.9" x2="1622.3" y2="562.5" stroke="#000" stroke-width="1.8" stroke-linecap="butt"/>
<line x1="1634.2" y1="508.9" x2="1634.2" y2="562.5" stroke="#000" stroke-width="1.8" stroke-linecap="butt"/>
<line x1="1646.1" y1="508.9" x2="1646.1" y2="562.5" stroke="#000" stroke-width="1.8" stroke-linecap="butt"/>
<line x1="1658" y1="508.9" x2="1658" y2="562.5" stroke="#000" stroke-width="1.8" stroke-linecap="butt"/>
<line x1="1669.9" y1="508.9" x2="1669.9" y2="562.5" stroke="#000" stroke-width="1.8" stroke-linecap="butt"/>
<rect x="1587.45" y="508.9" width="91.5" height="53.6" fill="none" stroke="#000" stroke-width="5.7" stroke-linejoin="bevel"/>
<line x1="1587.45" y1="524" x2="1678.95" y2="524" stroke="#000" stroke-width="5.7" stroke-linecap="butt"/>
<path d="M1097,807.6 H1108 V1205.6" fill="none" stroke="#000" stroke-width="4.0" stroke-linejoin="miter"/>
<line x1="1097" y1="1205.6" x2="1705.6" y2="1205.6" stroke="#000" stroke-width="4" stroke-linecap="butt"/>
<line x1="1097" y1="907.1" x2="1108" y2="907.1" stroke="#000" stroke-width="4" stroke-linecap="butt"/>
<line x1="1097" y1="1006.6" x2="1108" y2="1006.6" stroke="#000" stroke-width="4" stroke-linecap="butt"/>
<line x1="1097" y1="1106.1" x2="1108" y2="1106.1" stroke="#000" stroke-width="4" stroke-linecap="butt"/>
<line x1="1097" y1="1205.6" x2="1108" y2="1205.6" stroke="#000" stroke-width="4" stroke-linecap="butt"/>
<text transform="translate(1059.79,818.19) scale(1,1.04)" x="0" y="0" font-size="29.6">20</text>
<text transform="translate(1059.4,917.69) scale(1,1.04)" x="0" y="0" font-size="29.6">15</text>
<text transform="translate(1059.79,1017.19) scale(1,1.04)" x="0" y="0" font-size="29.6">10</text>
<text transform="translate(1075.86,1116.69) scale(1,1.04)" x="0" y="0" font-size="29.6">5</text>
<text transform="translate(1076.25,1216.19) scale(1,1.04)" x="0" y="0" font-size="29.6">0</text>
<line x1="1176.7" y1="1205.6" x2="1176.7" y2="1216.6" stroke="#000" stroke-width="4" stroke-linecap="butt"/>
<line x1="1312.9" y1="1205.6" x2="1312.9" y2="1216.6" stroke="#000" stroke-width="4" stroke-linecap="butt"/>
<line x1="1495.9" y1="1205.6" x2="1495.9" y2="1216.6" stroke="#000" stroke-width="4" stroke-linecap="butt"/>
<line x1="1632.8" y1="1205.6" x2="1632.8" y2="1216.6" stroke="#000" stroke-width="4" stroke-linecap="butt"/>
<text transform="translate(1132.67,1249.1) scale(1,1.04)" x="0" y="0" font-size="30.3">SHAM</text>
<text transform="translate(1283.01,1249.1) scale(1,1.04)" x="0" y="0" font-size="30.3">LPS</text>
<text transform="translate(1449.67,1249.1) scale(1,1.04)" x="0" y="0" font-size="30.3">Veh/HI</text>
<text transform="translate(1583.98,1249.1) scale(1,1.04)" x="0" y="0" font-size="30.3">LPS/HI</text>
<text transform="translate(1041.2,1006.6) rotate(-90) scale(1,1.04)" x="-92" y="0" font-size="32.6">Foldchange</text>
<text transform="translate(1328.31,803.1) scale(1,1.04)" x="0" y="0" font-size="39">IL1-beta</text>
<line x1="1176.6" y1="1184" x2="1176.6" y2="1183.3" stroke="#000" stroke-width="5.7" stroke-linecap="butt"/>
<line x1="1176.6" y1="1187" x2="1176.6" y2="1190.4" stroke="#000" stroke-width="5.7" stroke-linecap="butt"/>
<line x1="1153.7" y1="1184" x2="1199.5" y2="1184" stroke="#000" stroke-width="5.7" stroke-linecap="butt"/>
<line x1="1153.7" y1="1190.4" x2="1199.5" y2="1190.4" stroke="#000" stroke-width="5.7" stroke-linecap="butt"/>
<rect x="1130.85" y="1183.3" width="91.5" height="3.7" fill="#fff"/>
<rect x="1130.85" y="1183.3" width="91.5" height="3.7" fill="none" stroke="#000" stroke-width="5.7" stroke-linejoin="bevel"/>
<line x1="1130.85" y1="1185" x2="1222.35" y2="1185" stroke="#000" stroke-width="5.7" stroke-linecap="butt"/>
<line x1="1313.7" y1="1159.6" x2="1313.7" y2="1165" stroke="#000" stroke-width="5.7" stroke-linecap="butt"/>
<line x1="1313.7" y1="1178.4" x2="1313.7" y2="1193.7" stroke="#000" stroke-width="5.7" stroke-linecap="butt"/>
<line x1="1290.8" y1="1159.6" x2="1336.6" y2="1159.6" stroke="#000" stroke-width="5.7" stroke-linecap="butt"/>
<line x1="1290.8" y1="1193.7" x2="1336.6" y2="1193.7" stroke="#000" stroke-width="5.7" stroke-linecap="butt"/>
<rect x="1267.95" y="1165" width="91.5" height="13.4" fill="#d3d3d3"/>
<rect x="1267.95" y="1165" width="91.5" height="13.4" fill="none" stroke="#000" stroke-width="5.7" stroke-linejoin="bevel"/>
<line x1="1267.95" y1="1169.8" x2="1359.45" y2="1169.8" stroke="#000" stroke-width="5.7" stroke-linecap="butt"/>
<line x1="1496.3" y1="829.8" x2="1496.3" y2="967.2" stroke="#000" stroke-width="5.7" stroke-linecap="butt"/>
<line x1="1496.3" y1="1180.8" x2="1496.3" y2="1191" stroke="#000" stroke-width="5.7" stroke-linecap="butt"/>
<line x1="1473.4" y1="829.8" x2="1519.2" y2="829.8" stroke="#000" stroke-width="5.7" stroke-linecap="butt"/>
<line x1="1473.4" y1="1191" x2="1519.2" y2="1191" stroke="#000" stroke-width="5.7" stroke-linecap="butt"/>
<rect x="1450.55" y="967.2" width="91.5" height="213.6" fill="#fff"/>
<line x1="1461.6" y1="967.2" x2="1461.6" y2="1180.8" stroke="#000" stroke-width="1.8" stroke-linecap="butt"/>
<line x1="1473.5" y1="967.2" x2="1473.5" y2="1180.8" stroke="#000" stroke-width="1.8" stroke-linecap="butt"/>
<line x1="1485.4" y1="967.2" x2="1485.4" y2="1180.8" stroke="#000" stroke-width="1.8" stroke-linecap="butt"/>
<line x1="1497.3" y1="967.2" x2="1497.3" y2="1180.8" stroke="#000" stroke-width="1.8" stroke-linecap="butt"/>
<line x1="1509.2" y1="967.2" x2="1509.2" y2="1180.8" stroke="#000" stroke-width="1.8" stroke-linecap="butt"/>
<line x1="1521.1" y1="967.2" x2="1521.1" y2="1180.8" stroke="#000" stroke-width="1.8" stroke-linecap="butt"/>
<line x1="1533" y1="967.2" x2="1533" y2="1180.8" stroke="#000" stroke-width="1.8" stroke-linecap="butt"/>
<rect x="1450.55" y="967.2" width="91.5" height="213.6" fill="none" stroke="#000" stroke-width="5.7" stroke-linejoin="bevel"/>
<line x1="1450.55" y1="1168.5" x2="1542.05" y2="1168.5" stroke="#000" stroke-width="5.7" stroke-linecap="butt"/>
<line x1="1633.3" y1="993.5" x2="1633.3" y2="1025" stroke="#000" stroke-width="5.7" stroke-linecap="butt"/>
<line x1="1633.3" y1="1169.3" x2="1633.3" y2="1178.8" stroke="#000" stroke-width="5.7" stroke-linecap="butt"/>
<line x1="1610.4" y1="993.5" x2="1656.2" y2="993.5" stroke="#000" stroke-width="5.7" stroke-linecap="butt"/>
<line x1="1610.4" y1="1178.8" x2="1656.2" y2="1178.8" stroke="#000" stroke-width="5.7" stroke-linecap="butt"/>
<rect x="1587.55" y="1025" width="91.5" height="144.3" fill="#d3d3d3"/>
<line x1="1598.6" y1="1025" x2="1598.6" y2="1169.3" stroke="#000" stroke-width="1.8" stroke-linecap="butt"/>
<line x1="1610.5" y1="1025" x2="1610.5" y2="1169.3" stroke="#000" stroke-width="1.8" stroke-linecap="butt"/>
<line x1="1622.4" y1="1025" x2="1622.4" y2="1169.3" stroke="#000" stroke-width="1.8" stroke-linecap="butt"/>
<line x1="1634.3" y1="1025" x2="1634.3" y2="1169.3" stroke="#000" stroke-width="1.8" stroke-linecap="butt"/>
<line x1="1646.2" y1="1025" x2="1646.2" y2="1169.3" stroke="#000" stroke-width="1.8" stroke-linecap="butt"/>
<line x1="1658.1" y1="1025" x2="1658.1" y2="1169.3" stroke="#000" stroke-width="1.8" stroke-linecap="butt"/>
<line x1="1670" y1="1025" x2="1670" y2="1169.3" stroke="#000" stroke-width="1.8" stroke-linecap="butt"/>
<rect x="1587.55" y="1025" width="91.5" height="144.3" fill="none" stroke="#000" stroke-width="5.7" stroke-linejoin="bevel"/>
<line x1="1587.55" y1="1142.5" x2="1679.05" y2="1142.5" stroke="#000" stroke-width="5.7" stroke-linecap="butt"/>
<path d="M1097,1415 H1108 V1812.8" fill="none" stroke="#000" stroke-width="4.0" stroke-linejoin="miter"/>
<line x1="1097" y1="1812.8" x2="1705.6" y2="1812.8" stroke="#000" stroke-width="4" stroke-linecap="butt"/>
<line x1="1097" y1="1514.45" x2="1108" y2="1514.45" stroke="#000" stroke-width="4" stroke-linecap="butt"/>
<line x1="1097" y1="1613.9" x2="1108" y2="1613.9" stroke="#000" stroke-width="4" stroke-linecap="butt"/>
<line x1="1097" y1="1713.35" x2="1108" y2="1713.35" stroke="#000" stroke-width="4" stroke-linecap="butt"/>
<line x1="1097" y1="1812.8" x2="1108" y2="1812.8" stroke="#000" stroke-width="4" stroke-linecap="butt"/>
<text transform="translate(1059.79,1425.59) scale(1,1.04)" x="0" y="0" font-size="29.6">20</text>
<text transform="translate(1059.4,1525.04) scale(1,1.04)" x="0" y="0" font-size="29.6">15</text>
<text transform="translate(1059.79,1624.49) scale(1,1.04)" x="0" y="0" font-size="29.6">10</text>
<text transform="translate(1075.86,1723.94) scale(1,1.04)" x="0" y="0" font-size="29.6">5</text>
<text transform="translate(1076.25,1823.39) scale(1,1.04)" x="0" y="0" font-size="29.6">0</text>
<line x1="1176.7" y1="1812.8" x2="1176.7" y2="1823.8" stroke="#000" stroke-width="4" stroke-linecap="butt"/>
<line x1="1312.9" y1="1812.8" x2="1312.9" y2="1823.8" stroke="#000" stroke-width="4" stroke-linecap="butt"/>
<line x1="1495.9" y1="1812.8" x2="1495.9" y2="1823.8" stroke="#000" stroke-width="4" stroke-linecap="butt"/>
<line x1="1632.8" y1="1812.8" x2="1632.8" y2="1823.8" stroke="#000" stroke-width="4" stroke-linecap="butt"/>
<text transform="translate(1132.67,1856.3) scale(1,1.04)" x="0" y="0" font-size="30.3">SHAM</text>
<text transform="translate(1283.01,1856.3) scale(1,1.04)" x="0" y="0" font-size="30.3">LPS</text>
<text transform="translate(1449.67,1856.3) scale(1,1.04)" x="0" y="0" font-size="30.3">Veh/HI</text>
<text transform="translate(1583.98,1856.3) scale(1,1.04)" x="0" y="0" font-size="30.3">LPS/HI</text>
<text transform="translate(1041.2,1613.9) rotate(-90) scale(1,1.04)" x="-92" y="0" font-size="32.6">Foldchange</text>
<text transform="translate(1376.23,1389.8) scale(1,1.04)" x="0" y="0" font-size="39">IL6</text>
<line x1="1176.6" y1="1789" x2="1176.6" y2="1790.4" stroke="#000" stroke-width="5.7" stroke-linecap="butt"/>
<line x1="1176.6" y1="1795.2" x2="1176.6" y2="1797" stroke="#000" stroke-width="5.7" stroke-linecap="butt"/>
<line x1="1153.7" y1="1789" x2="1199.5" y2="1789" stroke="#000" stroke-width="5.7" stroke-linecap="butt"/>
<line x1="1153.7" y1="1797" x2="1199.5" y2="1797" stroke="#000" stroke-width="5.7" stroke-linecap="butt"/>
<rect x="1130.85" y="1790.4" width="91.5" height="4.8" fill="#fff"/>
<rect x="1130.85" y="1790.4" width="91.5" height="4.8" fill="none" stroke="#000" stroke-width="5.7" stroke-linejoin="bevel"/>
<line x1="1130.85" y1="1792.5" x2="1222.35" y2="1792.5" stroke="#000" stroke-width="5.7" stroke-linecap="butt"/>
<line x1="1313.7" y1="1777.4" x2="1313.7" y2="1784.8" stroke="#000" stroke-width="5.7" stroke-linecap="butt"/>
<line x1="1313.7" y1="1796" x2="1313.7" y2="1801" stroke="#000" stroke-width="5.7" stroke-linecap="butt"/>
<line x1="1290.8" y1="1777.4" x2="1336.6" y2="1777.4" stroke="#000" stroke-width="5.7" stroke-linecap="butt"/>
<line x1="1290.8" y1="1801" x2="1336.6" y2="1801" stroke="#000" stroke-width="5.7" stroke-linecap="butt"/>
<rect x="1267.95" y="1784.8" width="91.5" height="11.2" fill="#d3d3d3"/>
<rect x="1267.95" y="1784.8" width="91.5" height="11.2" fill="none" stroke="#000" stroke-width="5.7" stroke-linejoin="bevel"/>
<line x1="1267.95" y1="1792.5" x2="1359.45" y2="1792.5" stroke="#000" stroke-width="5.7" stroke-linecap="butt"/>
<line x1="1496.3" y1="1466.3" x2="1496.3" y2="1645" stroke="#000" stroke-width="5.7" stroke-linecap="butt"/>
<line x1="1496.3" y1="1789.3" x2="1496.3" y2="1793.7" stroke="#000" stroke-width="5.7" stroke-linecap="butt"/>
<line x1="1473.4" y1="1466.3" x2="1519.2" y2="1466.3" stroke="#000" stroke-width="5.7" stroke-linecap="butt"/>
<line x1="1473.4" y1="1793.7" x2="1519.2" y2="1793.7" stroke="#000" stroke-width="5.7" stroke-linecap="butt"/>
<rect x="1450.55" y="1645" width="91.5" height="144.3" fill="#fff"/>
<line x1="1461.6" y1="1645" x2="1461.6" y2="1789.3" stroke="#000" stroke-width="1.8" stroke-linecap="butt"/>
<line x1="1473.5" y1="1645" x2="1473.5" y2="1789.3" stroke="#000" stroke-width="1.8" stroke-linecap="butt"/>
<line x1="1485.4" y1="1645" x2="1485.4" y2="1789.3" stroke="#000" stroke-width="1.8" stroke-linecap="butt"/>
<line x1="1497.3" y1="1645" x2="1497.3" y2="1789.3" stroke="#000" stroke-width="1.8" stroke-linecap="butt"/>
<line x1="1509.2" y1="1645" x2="1509.2" y2="1789.3" stroke="#000" stroke-width="1.8" stroke-linecap="butt"/>
<line x1="1521.1" y1="1645" x2="1521.1" y2="1789.3" stroke="#000" stroke-width="1.8" stroke-linecap="butt"/>
<line x1="1533" y1="1645" x2="1533" y2="1789.3" stroke="#000" stroke-width="1.8" stroke-linecap="butt"/>
<rect x="1450.55" y="1645" width="91.5" height="144.3" fill="none" stroke="#000" stroke-width="5.7" stroke-linejoin="bevel"/>
<line x1="1450.55" y1="1742.9" x2="1542.05" y2="1742.9" stroke="#000" stroke-width="5.7" stroke-linecap="butt"/>
<line x1="1633.3" y1="1616.9" x2="1633.3" y2="1630.2" stroke="#000" stroke-width="5.7" stroke-linecap="butt"/>
<line x1="1633.3" y1="1750.4" x2="1633.3" y2="1783.1" stroke="#000" stroke-width="5.7" stroke-linecap="butt"/>
<line x1="1610.4" y1="1616.9" x2="1656.2" y2="1616.9" stroke="#000" stroke-width="5.7" stroke-linecap="butt"/>
<line x1="1610.4" y1="1783.1" x2="1656.2" y2="1783.1" stroke="#000" stroke-width="5.7" stroke-linecap="butt"/>
<rect x="1587.55" y="1630.2" width="91.5" height="120.2" fill="#d3d3d3"/>
<line x1="1598.6" y1="1630.2" x2="1598.6" y2="1750.4" stroke="#000" stroke-width="1.8" stroke-linecap="butt"/>
<line x1="1610.5" y1="1630.2" x2="1610.5" y2="1750.4" stroke="#000" stroke-width="1.8" stroke-linecap="butt"/>
<line x1="1622.4" y1="1630.2" x2="1622.4" y2="1750.4" stroke="#000" stroke-width="1.8" stroke-linecap="butt"/>
<line x1="1634.3" y1="1630.2" x2="1634.3" y2="1750.4" stroke="#000" stroke-width="1.8" stroke-linecap="butt"/>
<line x1="1646.2" y1="1630.2" x2="1646.2" y2="1750.4" stroke="#000" stroke-width="1.8" stroke-linecap="butt"/>
<line x1="1658.1" y1="1630.2" x2="1658.1" y2="1750.4" stroke="#000" stroke-width="1.8" stroke-linecap="butt"/>
<line x1="1670" y1="1630.2" x2="1670" y2="1750.4" stroke="#000" stroke-width="1.8" stroke-linecap="butt"/>
<rect x="1587.55" y="1630.2" width="91.5" height="120.2" fill="none" stroke="#000" stroke-width="5.7" stroke-linejoin="bevel"/>
<line x1="1587.55" y1="1691.7" x2="1679.05" y2="1691.7" stroke="#000" stroke-width="5.7" stroke-linecap="butt"/>
<line x1="1175.9" y1="1424.1" x2="1632" y2="1424.1" stroke="#2a0000" stroke-width="4.6" stroke-linecap="butt"/>
<text transform="translate(1393.39,1439.85) scale(1,1.04)" x="0" y="0" font-size="54">*</text>
<line x1="1312" y1="1456.5" x2="1632" y2="1456.5" stroke="#2a0000" stroke-width="4.6" stroke-linecap="butt"/>
<text transform="translate(1461.44,1472.25) scale(1,1.04)" x="0" y="0" font-size="54">*</text>
<path d="M1103.8,2059.9 H1115 V2453.2" fill="none" stroke="#000" stroke-width="4.0" stroke-linejoin="miter"/>
<line x1="1103.8" y1="2453.2" x2="1705.6" y2="2453.2" stroke="#000" stroke-width="4" stroke-linecap="butt"/>
<line x1="1103.8" y1="2191" x2="1115" y2="2191" stroke="#000" stroke-width="4" stroke-linecap="butt"/>
<line x1="1103.8" y1="2322.1" x2="1115" y2="2322.1" stroke="#000" stroke-width="4" stroke-linecap="butt"/>
<line x1="1103.8" y1="2453.2" x2="1115" y2="2453.2" stroke="#000" stroke-width="4" stroke-linecap="butt"/>
<text transform="translate(1057.98,2070.49) scale(1,1.04)" x="0" y="0" font-size="29.6">1.5</text>
<text transform="translate(1058.37,2201.59) scale(1,1.04)" x="0" y="0" font-size="29.6">1.0</text>
<text transform="translate(1057.98,2332.69) scale(1,1.04)" x="0" y="0" font-size="29.6">0.5</text>
<text transform="translate(1058.37,2463.79) scale(1,1.04)" x="0" y="0" font-size="29.6">0.0</text>
<line x1="1182.4" y1="2453.2" x2="1182.4" y2="2464.2" stroke="#000" stroke-width="4" stroke-linecap="butt"/>
<line x1="1317.7" y1="2453.2" x2="1317.7" y2="2464.2" stroke="#000" stroke-width="4" stroke-linecap="butt"/>
<line x1="1498.6" y1="2453.2" x2="1498.6" y2="2464.2" stroke="#000" stroke-width="4" stroke-linecap="butt"/>
<line x1="1633.9" y1="2453.2" x2="1633.9" y2="2464.2" stroke="#000" stroke-width="4" stroke-linecap="butt"/>
<text transform="translate(1139.24,2496.7) scale(1,1.04)" x="0" y="0" font-size="29.7">SHAM</text>
<text transform="translate(1288.41,2496.7) scale(1,1.04)" x="0" y="0" font-size="29.7">LPS</text>
<text transform="translate(1453.28,2496.7) scale(1,1.04)" x="0" y="0" font-size="29.7">Veh/HI</text>
<text transform="translate(1586.04,2496.7) scale(1,1.04)" x="0" y="0" font-size="29.7">LPS/HI</text>
<text transform="translate(1041.2,2256.55) rotate(-90) scale(1,1.04)" x="-92" y="0" font-size="32.6">Foldchange</text>
<text transform="translate(1369.66,2009.8) scale(1,1.04)" x="0" y="0" font-size="39">IL12</text>
<line x1="1182.6" y1="2134.4" x2="1182.6" y2="2162" stroke="#000" stroke-width="5.7" stroke-linecap="butt"/>
<line x1="1182.6" y1="2222.5" x2="1182.6" y2="2227" stroke="#000" stroke-width="5.7" stroke-linecap="butt"/>
<line x1="1160.2" y1="2134.4" x2="1205" y2="2134.4" stroke="#000" stroke-width="5.7" stroke-linecap="butt"/>
<line x1="1160.2" y1="2227" x2="1205" y2="2227" stroke="#000" stroke-width="5.7" stroke-linecap="butt"/>
<rect x="1137.85" y="2162" width="89.5" height="60.5" fill="#fff"/>
<rect x="1137.85" y="2162" width="89.5" height="60.5" fill="none" stroke="#000" stroke-width="5.7" stroke-linejoin="bevel"/>
<line x1="1137.85" y1="2186.1" x2="1227.35" y2="2186.1" stroke="#000" stroke-width="5.7" stroke-linecap="butt"/>
<line x1="1318.3" y1="2119.3" x2="1318.3" y2="2143.7" stroke="#000" stroke-width="5.7" stroke-linecap="butt"/>
<line x1="1318.3" y1="2259.5" x2="1318.3" y2="2266.8" stroke="#000" stroke-width="5.7" stroke-linecap="butt"/>
<line x1="1295.9" y1="2119.3" x2="1340.7" y2="2119.3" stroke="#000" stroke-width="5.7" stroke-linecap="butt"/>
<line x1="1295.9" y1="2266.8" x2="1340.7" y2="2266.8" stroke="#000" stroke-width="5.7" stroke-linecap="butt"/>
<rect x="1273.55" y="2143.7" width="89.5" height="115.8" fill="#d3d3d3"/>
<rect x="1273.55" y="2143.7" width="89.5" height="115.8" fill="none" stroke="#000" stroke-width="5.7" stroke-linejoin="bevel"/>
<line x1="1273.55" y1="2178.3" x2="1363.05" y2="2178.3" stroke="#000" stroke-width="5.7" stroke-linecap="butt"/>
<line x1="1499" y1="2216.2" x2="1499" y2="2229" stroke="#000" stroke-width="5.7" stroke-linecap="butt"/>
<line x1="1499" y1="2289.5" x2="1499" y2="2334.2" stroke="#000" stroke-width="5.7" stroke-linecap="butt"/>
<line x1="1476.6" y1="2216.2" x2="1521.4" y2="2216.2" stroke="#000" stroke-width="5.7" stroke-linecap="butt"/>
<line x1="1476.6" y1="2334.2" x2="1521.4" y2="2334.2" stroke="#000" stroke-width="5.7" stroke-linecap="butt"/>
<rect x="1454.25" y="2229" width="89.5" height="60.5" fill="#fff"/>
<line x1="1464.3" y1="2229" x2="1464.3" y2="2289.5" stroke="#000" stroke-width="1.8" stroke-linecap="butt"/>
<line x1="1476.2" y1="2229" x2="1476.2" y2="2289.5" stroke="#000" stroke-width="1.8" stroke-linecap="butt"/>
<line x1="1488.1" y1="2229" x2="1488.1" y2="2289.5" stroke="#000" stroke-width="1.8" stroke-linecap="butt"/>
<line x1="1500" y1="2229" x2="1500" y2="2289.5" stroke="#000" stroke-width="1.8" stroke-linecap="butt"/>
<line x1="1511.9" y1="2229" x2="1511.9" y2="2289.5" stroke="#000" stroke-width="1.8" stroke-linecap="butt"/>
<line x1="1523.8" y1="2229" x2="1523.8" y2="2289.5" stroke="#000" stroke-width="1.8" stroke-linecap="butt"/>
<line x1="1535.7" y1="2229" x2="1535.7" y2="2289.5" stroke="#000" stroke-width="1.8" stroke-linecap="butt"/>
<rect x="1454.25" y="2229" width="89.5" height="60.5" fill="none" stroke="#000" stroke-width="5.7" stroke-linejoin="bevel"/>
<line x1="1454.25" y1="2259.9" x2="1543.75" y2="2259.9" stroke="#000" stroke-width="5.7" stroke-linecap="butt"/>
<line x1="1634.3" y1="2087.5" x2="1634.3" y2="2281.5" stroke="#000" stroke-width="5.7" stroke-linecap="butt"/>
<line x1="1634.3" y1="2325.9" x2="1634.3" y2="2368.3" stroke="#000" stroke-width="5.7" stroke-linecap="butt"/>
<line x1="1611.9" y1="2087.5" x2="1656.7" y2="2087.5" stroke="#000" stroke-width="5.7" stroke-linecap="butt"/>
<line x1="1611.9" y1="2368.3" x2="1656.7" y2="2368.3" stroke="#000" stroke-width="5.7" stroke-linecap="butt"/>
<rect x="1589.55" y="2281.5" width="89.5" height="44.4" fill="#d3d3d3"/>
<line x1="1599.6" y1="2281.5" x2="1599.6" y2="2325.9" stroke="#000" stroke-width="1.8" stroke-linecap="butt"/>
<line x1="1611.5" y1="2281.5" x2="1611.5" y2="2325.9" stroke="#000" stroke-width="1.8" stroke-linecap="butt"/>
<line x1="1623.4" y1="2281.5" x2="1623.4" y2="2325.9" stroke="#000" stroke-width="1.8" stroke-linecap="butt"/>
<line x1="1635.3" y1="2281.5" x2="1635.3" y2="2325.9" stroke="#000" stroke-width="1.8" stroke-linecap="butt"/>
<line x1="1647.2" y1="2281.5" x2="1647.2" y2="2325.9" stroke="#000" stroke-width="1.8" stroke-linecap="butt"/>
<line x1="1659.1" y1="2281.5" x2="1659.1" y2="2325.9" stroke="#000" stroke-width="1.8" stroke-linecap="butt"/>
<line x1="1671" y1="2281.5" x2="1671" y2="2325.9" stroke="#000" stroke-width="1.8" stroke-linecap="butt"/>
<rect x="1589.55" y="2281.5" width="89.5" height="44.4" fill="none" stroke="#000" stroke-width="5.7" stroke-linejoin="bevel"/>
<line x1="1589.55" y1="2306.6" x2="1679.05" y2="2306.6" stroke="#000" stroke-width="5.7" stroke-linecap="butt"/>
<line x1="1182.4" y1="2048.2" x2="1632" y2="2048.2" stroke="#2a0000" stroke-width="4.6" stroke-linecap="butt"/>
<text transform="translate(1396.64,2063.95) scale(1,1.04)" x="0" y="0" font-size="54">*</text>
<line x1="1319.2" y1="2080.7" x2="1632" y2="2080.7" stroke="#2a0000" stroke-width="4.6" stroke-linecap="butt"/>
<text transform="translate(1465.04,2096.45) scale(1,1.04)" x="0" y="0" font-size="54">*</text>
<text transform="translate(6.98,26.6) scale(1,1.0)" x="0" y="0" font-size="33">A</text>
<text transform="translate(984.99,26.4) scale(1,1.0)" x="0" y="0" font-size="33">B</text>
<text transform="translate(223.47,40) scale(1,1.04)" x="0" y="0" font-size="51.3">Hippocampus</text>
<text transform="translate(1313.88,43.2) scale(1,1.04)" x="0" y="0" font-size="51.6">Cortex</text>
</svg>
</body></html>
